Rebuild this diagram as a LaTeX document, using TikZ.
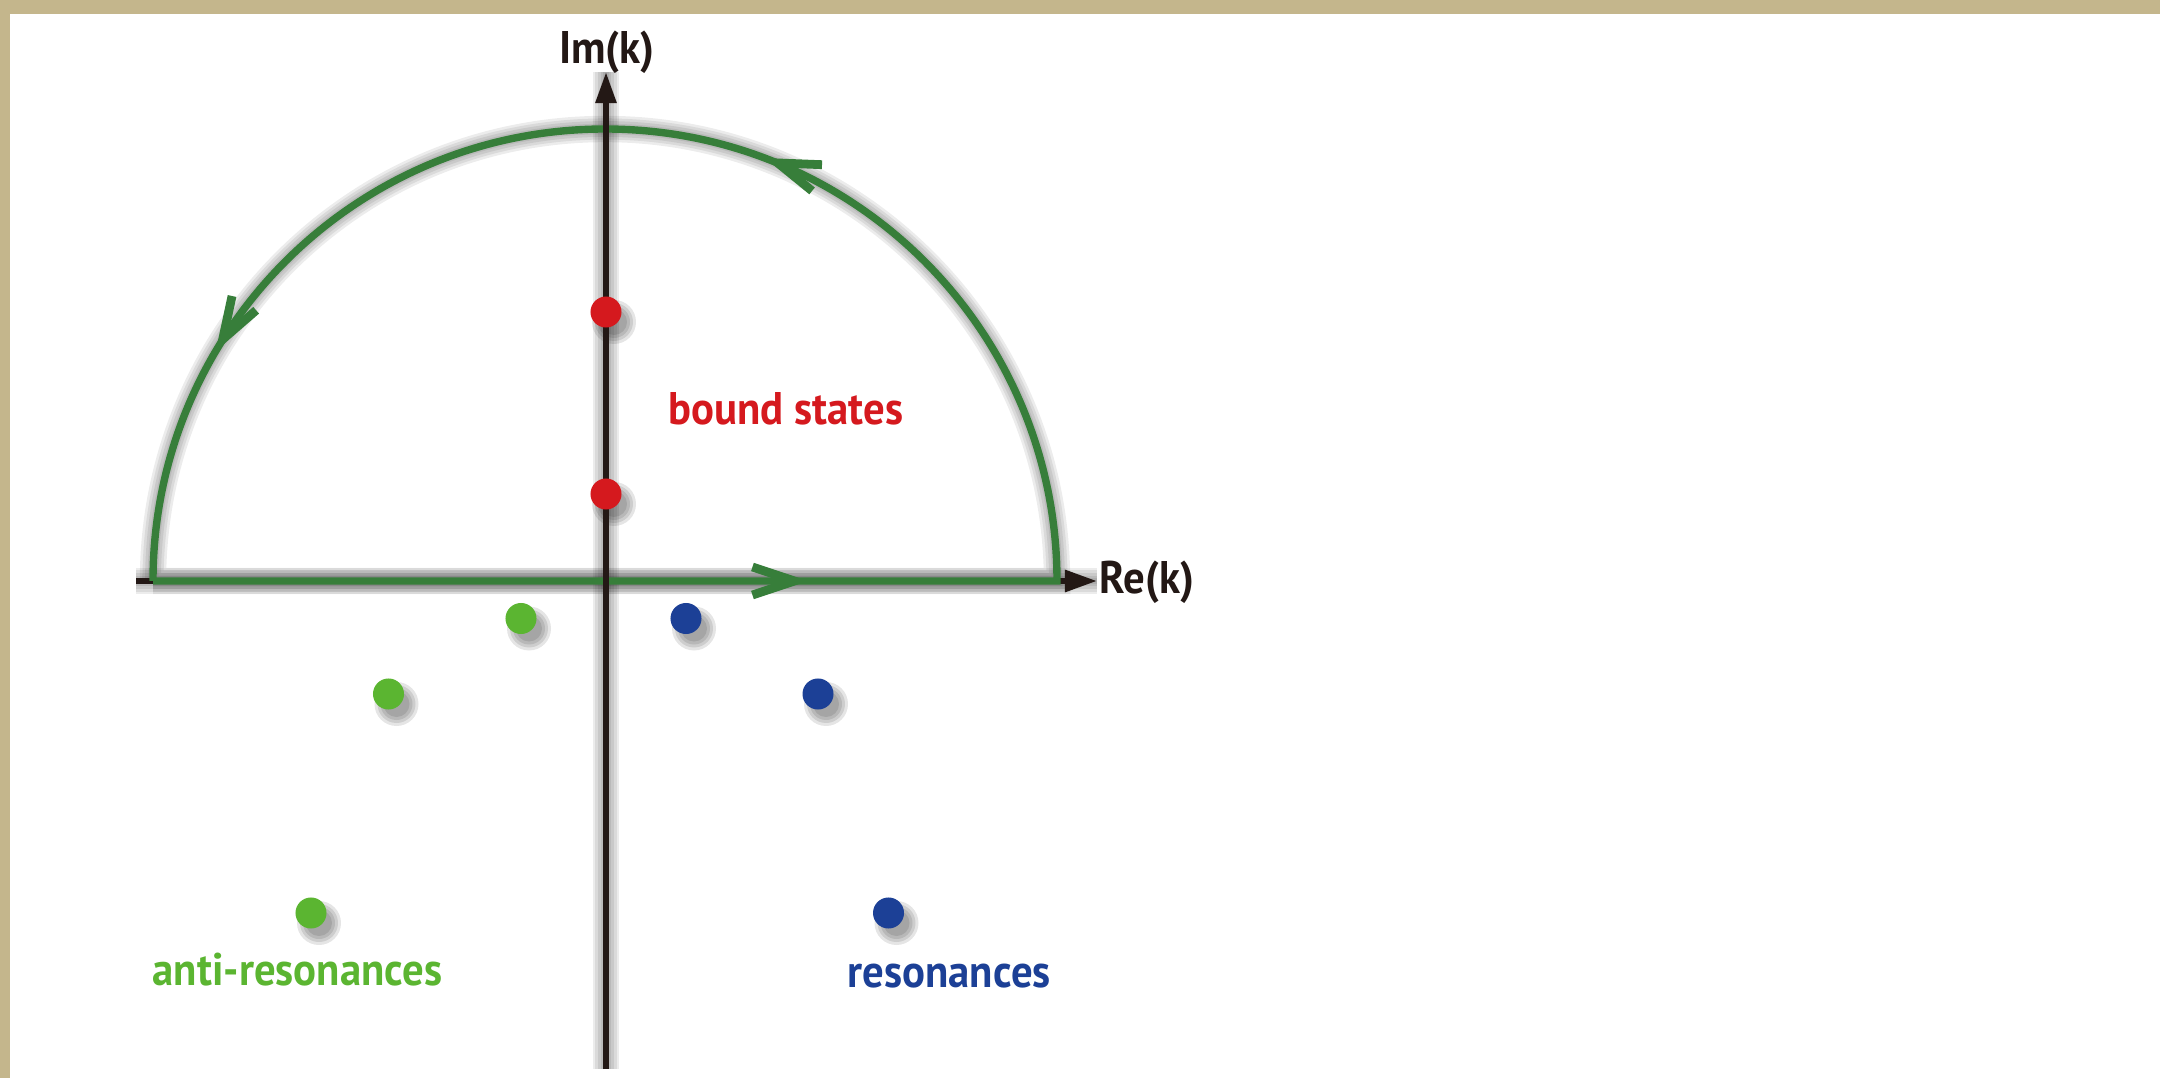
\documentclass[tikz,border=0pt]{standalone}
\usepackage{fontspec}
\setmainfont{PT Sans}[FakeStretch=0.935]
\usetikzlibrary{arrows.meta,decorations.markings}
\definecolor{parch}{RGB}{196,182,140}
\definecolor{contourgreen}{RGB}{55,126,58}
\definecolor{lightgreen}{RGB}{91,181,49}
\definecolor{resblue}{RGB}{28,64,150}
\definecolor{boundred}{RGB}{213,25,30}
\definecolor{axisblack}{RGB}{35,24,21}
\tikzset{
  axisline/.style={draw=axisblack, line width=1.65pt},
  contourline/.style={draw=contourgreen, line width=2.1pt, line join=miter},
  dotnode/.style={circle, inner sep=0pt, minimum size=0.31cm},
  lbl/.style={inner sep=0pt, anchor=base west, font=\fontsize{13}{15}\selectfont\bfseries},
  shd/.style={draw=black, opacity=0.075, shift={(8,-11)}},
  garrow/.tip={Straight Barb[length=0.42cm, width=0.28cm, line width=2.5pt]}
}
\begin{document}
\begin{tikzpicture}[x=0.01cm, y=0.01cm]
% background
\fill[parch] (0,0) rectangle (2160,1078);
\fill[white] (10,0) rectangle (2160,1064);
\useasboundingbox (0,0) rectangle (2160,1078);

% named coordinates
\coordinate (vbot) at (606,9);
\coordinate (vtop) at (606,1006);
\coordinate (hleft) at (136,497);
\coordinate (hright) at (1097,497);
\coordinate (cl) at (153,497);
\coordinate (cr) at (1057,497);

% shadows of lines
\foreach \w in {1.5,3,4.5,6,7.5}{
  \draw[shd, line width=\w pt] (vbot) -- (vtop);
  \draw[shd, line width=\w pt] (hleft) -- (hright);
  \draw[shd, line width=\w pt] (cl) -- (cr) arc[start angle=0, end angle=180, radius=452];
}
% shadows of dots
\foreach \p in {(606,766),(606,584),(521,459.5),(388.5,384),(311,165),(686,459.5),(818,384),(888.5,165)}{
  \foreach \r in {13,16,19,22}{
    \fill[black, opacity=0.1] \p ++(8,-10) circle[radius=\r];
  }
}

% horizontal axis (under contour)
\draw[axisline, -{Triangle[length=0.32cm, width=0.21cm]}] (hleft) -- (hright);

% contour
\draw[contourline, postaction={decorate},
  decoration={markings,
    mark=at position 6.55cm with {\arrow{garrow}},
    mark=at position 14.5cm with {\arrow{garrow}},
    mark=at position 20.82cm with {\arrow{garrow}}}]
  (cl) -- (cr) arc[start angle=0, end angle=180, radius=452];

% vertical axis
\draw[axisline, -{Triangle[length=0.31cm, width=0.2cm]}] (vbot) -- (vtop);

% dots
\node[dotnode, fill=boundred] (b1) at (606,766) {};
\node[dotnode, fill=boundred] (b2) at (606,584) {};
\node[dotnode, fill=lightgreen] (a1) at (521,459.5) {};
\node[dotnode, fill=lightgreen] (a2) at (388.5,384) {};
\node[dotnode, fill=lightgreen] (a3) at (311,165) {};
\node[dotnode, fill=resblue] (r1) at (686,459.5) {};
\node[dotnode, fill=resblue] (r2) at (818,384) {};
\node[dotnode, fill=resblue] (r3) at (888.5,165) {};

% labels
\node[lbl, text=axisblack, anchor=base] (imk) at (607,1014) {Im(k)};
\node[lbl, text=axisblack] (rek) at (1099,485) {Re(k)};
\node[lbl, text=boundred] (bs) at (668,653) {bound states};
\node[lbl, text=lightgreen] (ar) at (152,93) {anti-resonances};
\node[lbl, text=resblue] (rs) at (847,91) {resonances};
\end{tikzpicture}
\end{document}
